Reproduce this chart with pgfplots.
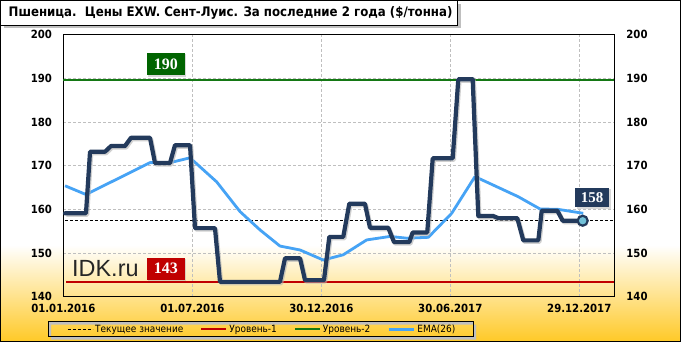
\documentclass[border=0pt]{standalone}
\usepackage{fontspec}
\setmainfont{DejaVu Sans Condensed}[BoldFont={DejaVu Sans Condensed Bold}]
\newfontfamily\serifbox{Liberation Serif}
\newfontfamily\arialf{Liberation Sans}
\usepackage{pgfplots}
\usepackage{pgfplotstable}
\pgfplotsset{compat=1.18}
\usetikzlibrary{shadows}
\definecolor{navy}{RGB}{35,58,92}
\definecolor{emablue}{RGB}{70,163,245}
\definecolor{lvlred}{RGB}{192,0,0}
\definecolor{lvlgreen}{RGB}{20,120,20}
\definecolor{boxgreen}{RGB}{0,100,0}
\definecolor{boxred}{RGB}{192,0,0}
\definecolor{bgyellow}{RGB}{255,201,38}
\definecolor{markfill}{RGB}{115,194,217}

\pgfplotstableread{
day value
2.5 159.1
32 159.1
37.7 173.2
58.8 173.2
67.3 174.5
87 174.5
95.5 176.4
122.3 176.4
129.4 170.6
150.5 170.6
157.6 174.7
178.8 174.7
185.8 155.7
214 155.7
221.1 143.4
305.7 143.4
312.8 148.8
334 148.8
341 143.8
367.8 143.8
375.3 153.7
395 153.7
403.5 161.3
425.6 161.3
432.7 155.8
458.5 155.8
466.6 152.5
488.1 152.5
492.9 154.7
513.5 154.7
521.2 171.7
549.4 171.7
557.3 189.8
577.6 189.8
585.5 158.5
606.2 158.5
613.7 158.0
640.5 158.0
649 152.9
670.2 152.9
675 159.7
697 159.7
704.6 157.4
732.8 157.4
}\pricetable

\pgfplotstableread{
day value
2.5 165.4
32 163.4
122.3 170.7
150.5 170.7
178.8 171.8
216.4 166.3
249.3 159.5
277.5 155.3
305.7 151.6
334 150.7
366.8 148.4
395 149.6
428 153.0
460.9 153.8
484.5 153.4
515 153.6
548 159.1
580.8 167.5
611.4 165.2
641.9 162.9
672.5 160.1
698.3 160.0
733.6 159.1
}\ematable

\begin{document}
\begin{tikzpicture}
\path[use as bounding box] (0,0) rectangle (681bp,342bp);
\fill[white] (0,97bp) rectangle (681bp,342bp);
\shade[top color=white, bottom color=bgyellow] (0,0) rectangle (681bp,97bp);
\draw[black, line width=1bp] (0.5bp,0.5bp) rectangle (680.5bp,341.5bp);
% title box
\fill[gray!50] (4bp,313.5bp) rectangle (460.5bp,338bp);
\draw[fill=white, line width=0.8bp] (0.5bp,317bp) rectangle (457bp,341.5bp);
\node[anchor=west, inner sep=0pt, font=\bfseries\fontsize{13.15}{14}\selectfont] at (8.5bp,329bp) {Пшеница.\ \ Цены EXW. Сент-Луис. За последние 2 года (\$/тонна)};
% legend box
\fill[gray!50, even odd rule] (51bp,2.3bp) rectangle (476bp,17.3bp) (48bp,5.3bp) rectangle (473bp,20.3bp);
\draw[line width=0.8bp] (48bp,5.3bp) rectangle (473bp,20.3bp);

\begin{axis}[
  at={(63.3bp,45.3bp)}, anchor=south west,
  scale only axis, width=550.7bp, height=262bp,
  xmin=0, xmax=777, ymin=140, ymax=200,
  xtick={0,182,364,546,728},
  xticklabels={01.01.2016,01.07.2016,30.12.2016,30.06.2017,29.12.2017},
  ytick={140,150,...,200},
  xtick pos=bottom, ytick pos=left,
  major tick length=0pt,
  grid=major, grid style={dash pattern=on 3bp off 2bp, black!25, line width=0.5bp},
  axis line style={line width=0.8bp},
  tick label style={font=\bfseries\fontsize{11.3}{12}\selectfont},
  /pgf/number format/assume math mode=true,
  yticklabel style={xshift=-7.8bp},
  xticklabel style={yshift=-3.8bp},
  clip=false,
  legend columns=4,
  legend style={at={(0.3615,-0.124)}, anchor=center, draw=none, fill=none,
    font=\fontsize{10}{11}\selectfont, inner sep=0pt,
    /tikz/every even column/.append style={column sep=15bp}},
  legend image code/.code={\draw[#1] (0bp,0bp) -- (25bp,0bp);},
]
\addlegendimage{black, dash pattern=on 3bp off 2bp, line width=0.8bp}
\addlegendentry{Текущее значение}
\addlegendimage{lvlred, line width=2bp}
\addlegendentry{Уровень-1}
\addlegendimage{lvlgreen, line width=2bp}
\addlegendentry{Уровень-2}
\addlegendimage{emablue, line width=3bp}
\addlegendentry{EMA(26)}

\addplot[forget plot, lvlgreen, line width=1.8bp] coordinates {(0,189.7) (777,189.7)};
\addplot[forget plot, lvlred, line width=1.8bp] coordinates {(4,143.3) (777,143.3)};
\addplot[forget plot, black, dash pattern=on 3bp off 2bp, line width=0.8bp] coordinates {(2.5,157.4) (777,157.4)};
\addplot[forget plot, emablue, line width=2.8bp, line join=round] table[x=day,y=value] {\ematable};
\addplot[forget plot, black!30, opacity=0.6, line width=4.2bp, line join=round, xshift=1.2bp, yshift=-1.5bp] table[x=day,y=value] {\pricetable};
\addplot[forget plot, navy, line width=4.2bp, line join=round, line cap=round] table[x=day,y=value] {\pricetable};
\addplot[forget plot, only marks, mark=*, mark size=5bp, mark options={fill=markfill, draw=navy, line width=2.2bp}] coordinates {(732.8,157.4)};

\node[fill=boxgreen, text=white, font=\serifbox\bfseries\fontsize{16}{16}\selectfont, minimum width=38.3bp, minimum height=22.3bp, inner sep=0pt, drop shadow={shadow xshift=1.5bp, shadow yshift=-1.5bp, fill=black!30}] at (axis cs:144.6,193.3) {190};
\node[fill=boxred, text=white, font=\serifbox\bfseries\fontsize{16}{16}\selectfont, minimum width=38.3bp, minimum height=22.3bp, inner sep=0pt, drop shadow={shadow xshift=1.5bp, shadow yshift=-1.5bp, fill=black!30}] at (axis cs:144.6,146.4) {143};
\node[fill=navy, text=white, font=\serifbox\bfseries\fontsize{15}{15}\selectfont, minimum width=34.3bp, minimum height=19.6bp, inner sep=0pt, drop shadow={shadow xshift=1.5bp, shadow yshift=-1.5bp, fill=black!30}] at (axis cs:746.2,162.7) {158};
\node[anchor=base west, inner sep=0pt, text=black!85, font=\arialf\fontsize{23.5}{23.5}\selectfont] at (axis cs:12.3,144.6) {IDK.ru};
\end{axis}

\begin{axis}[
  at={(63.3bp,45.3bp)}, anchor=south west,
  scale only axis, width=550.7bp, height=262bp,
  xmin=0, xmax=777, ymin=140, ymax=200,
  axis x line=none, axis y line*=right,
  axis line style={draw=none},
  ytick={140,150,...,200},
  major tick length=0pt,
  tick label style={font=\bfseries\fontsize{11.3}{12}\selectfont},
  /pgf/number format/assume math mode=true,
  yticklabel style={xshift=8.9bp},
]
\addplot[draw=none, forget plot] coordinates {(0,150) (777,150)};
\end{axis}
\end{tikzpicture}
\end{document}
